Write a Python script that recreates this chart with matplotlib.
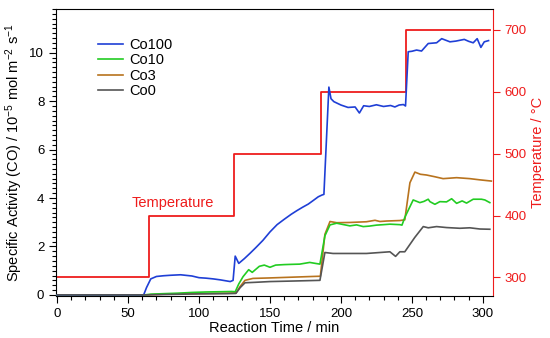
import matplotlib
matplotlib.use("Agg")
import matplotlib.pyplot as plt
from matplotlib.ticker import MultipleLocator

plt.rcParams["font.family"] = ["Liberation Sans", "DejaVu Sans"]
plt.rcParams["mathtext.fontset"] = "custom"
plt.rcParams["mathtext.rm"] = "Liberation Sans"
plt.rcParams["mathtext.it"] = "Liberation Sans"

# temperature program (step changes)
temp_time = [0, 65, 125, 186, 246, 305]
temp_value = [300, 400, 500, 600, 700, 700]

co100_t = [0, 61, 63, 66, 70, 75, 80, 87, 95, 100, 105, 110, 115, 120, 122, 124,
           125.5, 128, 132, 136, 140, 145, 150, 155, 160, 165, 169, 173, 177, 181,
           184, 186.5, 188, 191.5, 193, 195, 200, 205, 210, 213, 216, 220, 225,
           230, 235, 238, 241, 244, 245.5, 247.4, 250, 253.3, 256.8, 261.5, 267.4,
           271, 276.8, 281, 286.9, 290, 293.2, 296, 298.6, 301, 304]
co100_v = [0, 0, 0.3, 0.66, 0.76, 0.79, 0.81, 0.83, 0.78, 0.71, 0.69, 0.66, 0.62,
           0.57, 0.55, 0.6, 1.6, 1.3, 1.5, 1.72, 1.95, 2.25, 2.6, 2.9, 3.12, 3.33,
           3.48, 3.62, 3.75, 3.92, 4.05, 4.12, 4.15, 8.58, 8.1, 7.98, 7.84, 7.74,
           7.76, 7.51, 7.81, 7.78, 7.85, 7.78, 7.82, 7.76, 7.84, 7.86, 7.8, 10.04,
           10.06, 10.11, 10.07, 10.38, 10.41, 10.58, 10.45, 10.48, 10.55, 10.47,
           10.41, 10.58, 10.22, 10.45, 10.5]

co10_t = [0, 62, 66, 75, 85, 95, 105, 115, 123, 125.5, 128, 131, 135, 137.5, 142.5,
          146, 150, 154, 160, 165, 171, 178, 182, 185.2, 188.7, 192.3, 197, 202,
          206.3, 211, 215.7, 220, 225, 230, 234.5, 241.5, 243, 245, 250.9, 255.6,
          258.5, 261.5, 262.7, 266.2, 269.7, 274.4, 278, 281.5, 285.4, 288.5,
          293.2, 299, 301.4, 304.9]
co10_v = [0, 0, 0.03, 0.05, 0.07, 0.1, 0.12, 0.13, 0.14, 0.13, 0.45, 0.75, 1.04,
          0.93, 1.18, 1.23, 1.14, 1.23, 1.25, 1.26, 1.27, 1.34, 1.3, 1.27, 2.44,
          2.89, 2.96, 2.9, 2.85, 2.89, 2.82, 2.84, 2.88, 2.9, 2.92, 2.9, 2.88, 3.2,
          3.92, 3.81, 3.86, 3.95, 3.85, 3.74, 3.85, 3.84, 3.97, 3.78, 3.88, 3.79,
          3.95, 3.95, 3.92, 3.81]

co3_t = [0, 64, 75, 90, 105, 120, 126, 129, 132.4, 138, 150, 165, 180, 185.5,
         188.7, 192.3, 197, 206.3, 218, 224, 227.5, 232.2, 241.5, 245, 248.6,
         252.1, 256, 260.3, 266, 272, 281.5, 290.8, 297.9, 306]
co3_v = [0, 0, 0.03, 0.05, 0.06, 0.07, 0.08, 0.35, 0.6, 0.68, 0.7, 0.73, 0.76, 0.77,
         2.5, 3.03, 2.98, 2.99, 3.02, 3.08, 3.03, 3.05, 3.07, 3.1, 4.63, 5.07, 4.98,
         4.95, 4.88, 4.8, 4.84, 4.8, 4.75, 4.7]

co0_t = [0, 64, 80, 100, 120, 126, 129, 132.4, 140, 150, 165, 185.2, 188.7, 194.4,
         206.3, 218, 227.5, 234.5, 238.5, 241.5, 245, 252, 258, 261.5, 267.4,
         274.4, 283.8, 290.8, 297.9, 304.9]
co0_v = [0, 0, 0.02, 0.04, 0.05, 0.06, 0.3, 0.5, 0.52, 0.55, 0.57, 0.6, 1.75, 1.71,
         1.71, 1.71, 1.75, 1.78, 1.59, 1.78, 1.78, 2.37, 2.82, 2.77, 2.82, 2.78,
         2.75, 2.77, 2.72, 2.71]

fig = plt.figure(figsize=(5.5, 3.38), dpi=100)
ax = fig.add_axes([0.102, 0.124, 0.794, 0.849])
ax2 = ax.twinx()

red = "#ee1c1c"
lw = 1.2

ax.plot(co100_t, co100_v, color="#1f3fd6", lw=lw, label="Co100", zorder=4)
ax.plot(co10_t, co10_v, color="#22cc22", lw=lw, label="Co10", zorder=3)
ax.plot(co3_t, co3_v, color="#b8731e", lw=lw, label="Co3", zorder=2)
ax.plot(co0_t, co0_v, color="#555555", lw=lw, label="Co0", zorder=5)

ax2.plot(temp_time, temp_value, color=red, lw=1.3, drawstyle="steps-post")

ax.set_xlim(-0.7, 307)
ax.set_ylim(-0.05, 11.8)
ax2.set_ylim(270, 733)

ax.set_zorder(ax2.get_zorder() + 1)
ax.patch.set_visible(False)

ax.xaxis.set_major_locator(MultipleLocator(50))
ax.xaxis.set_minor_locator(MultipleLocator(10))
ax.yaxis.set_major_locator(MultipleLocator(2))
ax.yaxis.set_minor_locator(MultipleLocator(0.2))
ax2.yaxis.set_major_locator(MultipleLocator(100))

ax.tick_params(which="major", direction="out", length=5, width=0.8, labelsize=9.5)
ax.tick_params(which="minor", direction="out", length=3, width=0.8)
ax.tick_params(top=False, right=False)
ax2.tick_params(axis="y", colors=red, direction="out", length=5, width=0.8, labelsize=9.5)

for s in ax.spines.values():
    s.set_linewidth(0.8)
ax.spines["right"].set_visible(False)
ax2.spines["right"].set_color(red)
ax2.spines["right"].set_linewidth(0.8)
for name in ("left", "top", "bottom"):
    ax2.spines[name].set_visible(False)

ax.set_xlabel("Reaction Time / min", fontsize=10.5, labelpad=1)
ax.set_ylabel("Specific Activity (CO) / 10$^{-5}$ mol m$^{-2}$ s$^{-1}$", fontsize=10.5, labelpad=3)
ax2.set_ylabel("Temperature / °C", fontsize=10.5, color=red, labelpad=3)

ax.text(81.3, 3.78, "Temperature", color=red, fontsize=10.5, ha="center", va="center")

ax.legend(loc="upper left", bbox_to_anchor=(0.096, 0.90), frameon=False, fontsize=10.5,
          borderpad=0, borderaxespad=0, handlelength=1.7, handletextpad=0.45,
          labelspacing=0.1)

fig.savefig("out.png", dpi=100)
